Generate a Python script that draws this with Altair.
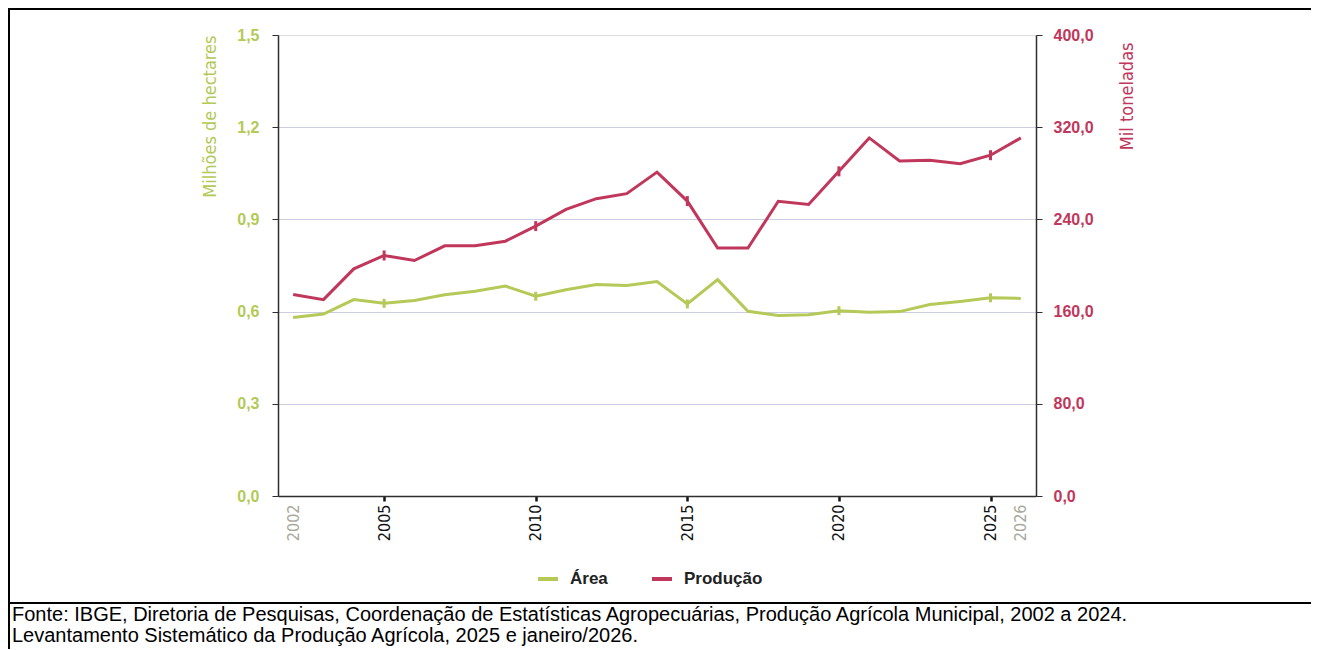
import altair as alt
import pandas as pd

# ---- data ----
anos = list(range(2002, 2027))
area = [0.581, 0.592, 0.639, 0.627, 0.636, 0.655, 0.666, 0.683, 0.650, 0.671,
        0.688, 0.685, 0.698, 0.625, 0.704, 0.601, 0.587, 0.590, 0.603, 0.598,
        0.600, 0.623, 0.633, 0.645, 0.643]
producao = [174.8, 170.4, 197.1, 208.7, 204.3, 217.1, 217.1, 221.1, 234.2, 248.7,
            258.0, 262.3, 281.0, 255.9, 215.1, 215.1, 255.7, 253.0, 281.7, 310.7,
            290.7, 291.3, 288.4, 295.7, 310.7]
anos_marcados = [2005, 2010, 2015, 2020, 2025]
x_rotulos = [2002, 2005, 2010, 2015, 2020, 2025, 2026]
y_esq_valores = [0, 0.3, 0.6, 0.9, 1.2, 1.5]
y_dir_valores = [0, 80, 160, 240, 320, 400]
series = ["Área", "Produção"]
rodape = [
    "Fonte: IBGE, Diretoria de Pesquisas, Coordenação de Estatísticas Agropecuárias, Produção Agrícola Municipal, 2002 a 2024.",
    "Levantamento Sistemático da Produção Agrícola, 2025 e janeiro/2026.",
]

VERDE = "#b4c957"
VERMELHO = "#c1375c"
FRAME = "#2e2e2e"
NARROW = "Liberation Sans Narrow, DejaVu Sans Condensed, sans-serif"
SANS = "Liberation Sans, Arial, sans-serif"

df = pd.DataFrame({"ano": anos, "area": area, "producao": producao})
one = pd.DataFrame({"k": [0]})

lab_expr = "replace(format(datum.value, '.1f'), '.', ',')"
edge_test = "datum.value == 2002 || datum.value == 2026"

x_enc = alt.X(
    "ano:Q",
    scale=alt.Scale(domain=[2001.5, 2026.5], nice=False, zero=False),
    axis=alt.Axis(
        values=x_rotulos, format="d", title=None, grid=False,
        domain=True, domainColor=FRAME, domainWidth=1.5,
        labelAngle=-90, labelAlign="right", labelBaseline="middle",
        labelFont=NARROW, labelFontSize=16, labelPadding=3,
        labelColor={"condition": {"test": edge_test, "value": "#a8a89b"}, "value": "#111111"},
        tickColor={"condition": {"test": edge_test, "value": "rgba(0,0,0,0)"}, "value": "#111111"},
        tickWidth=2.5, tickSize=5,
    ),
)

color_scale = alt.Scale(domain=series, range=[VERDE, VERMELHO])
legend = alt.Legend(
    orient="none", legendX=258, legendY=532, direction="horizontal", title=None,
    symbolType="stroke", symbolStrokeWidth=4, symbolSize=400,
    labelFont=SANS, labelFontSize=17, labelFontWeight="bold", labelColor="#222222",
    labelOffset=10, columnPadding=36,
)

y_left = alt.Y(
    "area:Q",
    scale=alt.Scale(domain=[0, 1.5], nice=False),
    axis=alt.Axis(
        values=y_esq_valores, labelExpr=lab_expr, labelColor=VERDE, labelFont=SANS,
        labelFontWeight="bold", labelFontSize=16, labelPadding=13,
        tickSize=6, tickColor=FRAME, domain=True, domainColor=FRAME, domainWidth=1.5,
        grid=True, gridWidth=1,
        gridColor={"condition": {"test": "datum.value == 0 || datum.value == 1.5",
                                 "value": "rgba(0,0,0,0)"}, "value": "#cdcde2"},
        title="Milhões de hectares", titleColor=VERDE, titleFont=NARROW,
        titleFontSize=18, titleFontWeight="normal", titleAngle=-90,
        titleX=-68, titleY=0, titleAlign="right", titleBaseline="middle",
    ),
)
y_right = alt.Y(
    "producao:Q",
    scale=alt.Scale(domain=[0, 400], nice=False),
    axis=alt.Axis(
        orient="right", values=y_dir_valores, labelExpr=lab_expr, labelColor=VERMELHO,
        labelFont=SANS, labelFontWeight="bold", labelFontSize=16, labelPadding=11,
        tickSize=6, tickColor=FRAME, domain=True, domainColor=FRAME, domainWidth=1.5,
        grid=False,
        title="Mil toneladas", titleColor=VERMELHO, titleFont=NARROW,
        titleFontSize=18, titleFontWeight="normal", titleAngle=-90,
        titleX=91, titleY=7, titleAlign="right", titleBaseline="middle",
    ),
)

base = alt.Chart(df)

line_a = base.mark_line(strokeWidth=3).transform_calculate(serie="'Área'").encode(
    x=x_enc, y=y_left,
    color=alt.Color("serie:N", scale=color_scale, legend=legend),
)
tick_a = base.transform_filter(
    alt.FieldOneOfPredicate(field="ano", oneOf=anos_marcados)
).mark_tick(orient="vertical", size=9, thickness=3, color=VERDE, opacity=1).encode(
    x="ano:Q", y="area:Q"
)
line_p = base.mark_line(strokeWidth=3).transform_calculate(serie="'Produção'").encode(
    x="ano:Q", y=y_right,
    color=alt.Color("serie:N", scale=color_scale, legend=legend),
)
tick_p = base.transform_filter(
    alt.FieldOneOfPredicate(field="ano", oneOf=anos_marcados)
).mark_tick(orient="vertical", size=10, thickness=3, color=VERMELHO, opacity=1).encode(
    x="ano:Q", y="producao:Q"
)

layer_a = alt.layer(line_a, tick_a)
layer_p = alt.layer(line_p, tick_p)

# frame / separator decorations
deco = alt.Chart(one)
top_rule = deco.mark_rule(color="black", strokeWidth=2).encode(
    x=alt.value(-270), x2=alt.value(1033), y=alt.value(-26))
left_rule = deco.mark_rule(color="black", strokeWidth=2).encode(
    x=alt.value(-269), y=alt.value(-27), y2=alt.value(614))
sep_rule = deco.mark_rule(color="black", strokeWidth=2).encode(
    x=alt.value(-270), x2=alt.value(1033), y=alt.value(568))
foot1 = deco.mark_text(align="left", baseline="alphabetic", font=SANS, fontSize=20,
                       color="black").encode(
    x=alt.value(-266), y=alt.value(586), text=alt.value(rodape[0]))
foot2 = deco.mark_text(align="left", baseline="alphabetic", font=SANS, fontSize=20,
                       color="black").encode(
    x=alt.value(-266), y=alt.value(607), text=alt.value(rodape[1]))

chart = alt.layer(
    layer_a, layer_p, top_rule, left_rule, sep_rule, foot1, foot2
).resolve_scale(y="independent").properties(
    width=758, height=461,
    autosize=alt.AutoSizeParams(type="none"),
    padding={"left": 270, "top": 27, "right": 275, "bottom": 153},
).configure_view(stroke=FRAME, strokeWidth=1.5).configure(background="white")

chart.save("out.html", embed_options={"renderer": "svg", "actions": False})
